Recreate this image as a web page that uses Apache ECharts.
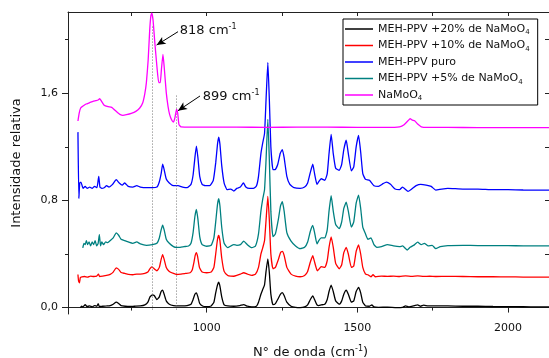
<!DOCTYPE html>
<html>
<head>
<meta charset="utf-8">
<script src="https://cdn.jsdelivr.net/npm/echarts@6/dist/echarts.min.js"></script>
<style>html,body{margin:0;padding:0;background:#fff}#c{width:549px;height:358px}</style>
</head>
<body>
<div id="c"></div>
<script>
const seriesNames = ['MEH-PPV +20% de NaMoO4','MEH-PPV +10% de NaMoO4','MEH-PPV puro','MEH-PPV +5% de NaMoO4','NaMoO4'];
const xTickLabels = [1000, 1500, 2000];
const xMinorTicks = [750, 1250, 1750];
const yTickLabels = [0, 0.8, 1.6];
const yMinorTicks = [0.4, 1.2, 2.0];
const markedBands = [818, 899];

const black20 = [[581,0.0],[585,0.01],[590,0.005],[597,0.022],[603,0.008],[612,0.012],[620,0.005],[628,0.015],[636,0.01],[640,0.03],[644,0.008],[655,0.01],[668,0.012],[680,0.015],[690,0.025],[700,0.04],[708,0.03],[716,0.015],[730,0.01],[745,0.008],[760,0.01],[780,0.012],[795,0.02],[805,0.04],[812,0.08],[820,0.095],[826,0.09],[835,0.06],[843,0.08],[849,0.12],[854,0.13],[859,0.1],[866,0.05],[876,0.025],[890,0.015],[905,0.012],[920,0.012],[935,0.015],[948,0.025],[955,0.06],[961,0.1],[966,0.11],[971,0.08],[977,0.03],[988,0.01],[1000,0.007],[1015,0.012],[1024,0.04],[1030,0.11],[1036,0.17],[1040,0.19],[1044,0.16],[1050,0.08],[1058,0.02],[1070,0.012],[1090,0.01],[1110,0.015],[1123,0.022],[1135,0.01],[1150,0.005],[1165,0.01],[1172,0.04],[1180,0.1],[1186,0.135],[1192,0.17],[1197,0.27],[1203,0.364],[1208,0.26],[1213,0.1],[1220,0.022],[1228,0.03],[1238,0.07],[1245,0.1],[1251,0.112],[1257,0.09],[1266,0.04],[1280,0.01],[1295,0.002],[1310,0.0],[1325,0.005],[1335,0.02],[1344,0.06],[1352,0.087],[1358,0.06],[1366,0.02],[1372,0.015],[1380,0.02],[1392,0.025],[1400,0.06],[1406,0.12],[1413,0.168],[1420,0.12],[1428,0.05],[1440,0.025],[1448,0.05],[1455,0.1],[1463,0.13],[1470,0.1],[1480,0.04],[1488,0.05],[1496,0.12],[1504,0.15],[1511,0.11],[1518,0.04],[1527,0.012],[1540,0.01],[1548,0.02],[1555,0.005],[1570,0.002],[1600,0.003],[1630,0.0],[1650,0.002],[1660,0.012],[1670,0.005],[1690,0.015],[1700,0.02],[1710,0.01],[1720,0.018],[1735,0.012],[1760,0.012],[1800,0.012],[1850,0.01],[1900,0.01],[1950,0.008],[2000,0.007],[2050,0.006],[2100,0.005],[2150,0.005]];

const red10 = [[573,0.247],[575,0.2],[578,0.185],[581,0.225],[586,0.23],[595,0.232],[605,0.228],[615,0.235],[625,0.232],[635,0.235],[641,0.25],[645,0.232],[655,0.235],[668,0.24],[680,0.248],[690,0.265],[700,0.297],[708,0.285],[716,0.262],[728,0.255],[740,0.248],[755,0.245],[768,0.25],[780,0.25],[795,0.255],[805,0.265],[812,0.29],[818,0.304],[826,0.29],[835,0.275],[843,0.3],[849,0.36],[854,0.396],[859,0.36],[866,0.3],[876,0.27],[890,0.255],[900,0.247],[915,0.25],[930,0.255],[945,0.26],[952,0.28],[958,0.34],[962,0.39],[966,0.41],[970,0.38],[976,0.3],[985,0.265],[1000,0.26],[1015,0.265],[1024,0.3],[1030,0.4],[1036,0.51],[1040,0.538],[1044,0.5],[1050,0.37],[1058,0.27],[1070,0.24],[1080,0.235],[1090,0.234],[1100,0.24],[1112,0.25],[1123,0.26],[1135,0.25],[1150,0.24],[1162,0.25],[1172,0.3],[1180,0.4],[1186,0.446],[1192,0.5],[1197,0.65],[1203,0.83],[1208,0.65],[1213,0.4],[1220,0.29],[1228,0.3],[1238,0.36],[1245,0.41],[1251,0.42],[1257,0.39],[1266,0.3],[1280,0.25],[1295,0.235],[1310,0.23],[1325,0.24],[1335,0.27],[1344,0.34],[1352,0.387],[1358,0.34],[1367,0.275],[1372,0.285],[1380,0.305],[1392,0.3],[1400,0.35],[1406,0.45],[1413,0.528],[1420,0.45],[1428,0.33],[1440,0.29],[1448,0.32],[1455,0.41],[1463,0.45],[1470,0.4],[1480,0.3],[1488,0.31],[1496,0.42],[1504,0.468],[1511,0.4],[1518,0.3],[1527,0.25],[1535,0.245],[1545,0.23],[1552,0.245],[1560,0.23],[1580,0.235],[1600,0.233],[1620,0.235],[1640,0.232],[1660,0.237],[1680,0.233],[1700,0.236],[1720,0.233],[1740,0.234],[1760,0.232],[1800,0.233],[1850,0.232],[1900,0.23],[1950,0.23],[2000,0.229],[2050,0.228],[2100,0.227],[2150,0.227]];

const bluePuro = [[573,1.31],[576,0.815],[579,0.93],[583,0.937],[590,0.89],[597,0.905],[604,0.89],[612,0.9],[620,0.89],[628,0.905],[636,0.895],[642,0.98],[646,0.9],[652,0.89],[660,0.895],[668,0.91],[676,0.9],[688,0.92],[700,0.955],[710,0.93],[720,0.915],[728,0.93],[740,0.905],[755,0.9],[768,0.91],[780,0.9],[800,0.895],[820,0.895],[835,0.9],[843,0.94],[849,1.0],[854,1.07],[859,1.03],[866,0.96],[876,0.93],[890,0.91],[905,0.91],[920,0.9],[935,0.895],[948,0.92],[955,0.99],[961,1.12],[966,1.206],[971,1.12],[977,0.98],[985,0.92],[995,0.91],[1010,0.91],[1022,0.95],[1030,1.08],[1036,1.22],[1040,1.273],[1044,1.22],[1050,1.06],[1058,0.93],[1068,0.88],[1080,0.885],[1090,0.87],[1100,0.89],[1112,0.9],[1122,0.93],[1130,0.9],[1142,0.89],[1155,0.89],[1165,0.907],[1172,0.98],[1180,1.15],[1186,1.23],[1192,1.3],[1197,1.55],[1203,1.83],[1208,1.55],[1213,1.2],[1220,1.03],[1227,1.03],[1236,1.07],[1244,1.15],[1251,1.18],[1257,1.12],[1266,0.98],[1276,0.92],[1290,0.895],[1310,0.89],[1325,0.9],[1335,0.93],[1344,1.01],[1352,1.07],[1358,1.0],[1366,0.92],[1372,0.94],[1380,0.962],[1392,0.95],[1400,1.0],[1406,1.15],[1413,1.293],[1420,1.15],[1428,1.04],[1440,1.025],[1448,1.07],[1455,1.18],[1463,1.25],[1470,1.15],[1480,1.02],[1488,1.05],[1496,1.2],[1504,1.286],[1511,1.16],[1518,1.0],[1527,0.957],[1540,0.95],[1555,0.91],[1570,0.905],[1585,0.925],[1596,0.937],[1610,0.92],[1625,0.885],[1640,0.88],[1650,0.9],[1658,0.885],[1668,0.867],[1680,0.885],[1695,0.91],[1710,0.92],[1728,0.915],[1745,0.905],[1760,0.877],[1780,0.885],[1800,0.89],[1850,0.885],[1900,0.885],[1950,0.88],[2000,0.88],[2050,0.878],[2100,0.877],[2150,0.877]];

const teal5 = [[589,0.446],[593,0.48],[597,0.47],[601,0.5],[605,0.47],[610,0.49],[615,0.46],[620,0.49],[625,0.47],[630,0.5],[635,0.46],[640,0.48],[644,0.545],[648,0.46],[652,0.49],[658,0.47],[665,0.49],[672,0.485],[680,0.5],[690,0.52],[700,0.558],[708,0.54],[716,0.51],[728,0.5],[740,0.49],[755,0.48],[768,0.49],[780,0.475],[800,0.465],[820,0.47],[835,0.48],[843,0.52],[849,0.58],[854,0.615],[859,0.58],[866,0.51],[876,0.48],[890,0.455],[900,0.449],[912,0.45],[925,0.455],[940,0.46],[948,0.48],[955,0.56],[961,0.68],[966,0.733],[971,0.66],[977,0.53],[985,0.47],[1000,0.458],[1015,0.465],[1024,0.52],[1030,0.64],[1036,0.77],[1040,0.813],[1044,0.76],[1050,0.6],[1058,0.48],[1070,0.447],[1080,0.46],[1090,0.47],[1100,0.465],[1112,0.47],[1123,0.496],[1135,0.47],[1150,0.447],[1162,0.46],[1172,0.55],[1180,0.72],[1186,0.81],[1192,0.88],[1197,1.1],[1203,1.405],[1208,1.1],[1213,0.72],[1220,0.53],[1228,0.55],[1238,0.66],[1245,0.76],[1251,0.79],[1257,0.72],[1266,0.56],[1280,0.496],[1295,0.46],[1310,0.44],[1325,0.45],[1335,0.49],[1344,0.57],[1352,0.613],[1358,0.56],[1366,0.475],[1372,0.5],[1380,0.52],[1392,0.52],[1400,0.58],[1406,0.72],[1413,0.835],[1420,0.72],[1428,0.62],[1440,0.59],[1448,0.64],[1455,0.74],[1463,0.787],[1470,0.72],[1480,0.6],[1488,0.64],[1496,0.78],[1504,0.84],[1511,0.74],[1518,0.6],[1527,0.55],[1535,0.51],[1545,0.52],[1555,0.47],[1565,0.45],[1580,0.455],[1600,0.47],[1620,0.46],[1640,0.455],[1650,0.46],[1665,0.43],[1675,0.45],[1690,0.47],[1700,0.488],[1712,0.47],[1722,0.48],[1735,0.46],[1748,0.465],[1760,0.44],[1775,0.455],[1800,0.463],[1850,0.465],[1900,0.463],[1950,0.462],[2000,0.462],[2050,0.461],[2100,0.46],[2150,0.46]];

const naMoO4 = [[573,1.393],[577,1.45],[582,1.49],[590,1.505],[600,1.52],[612,1.53],[623,1.54],[632,1.545],[640,1.55],[645,1.56],[650,1.545],[660,1.51],[673,1.5],[685,1.495],[695,1.475],[705,1.455],[712,1.443],[722,1.435],[734,1.44],[750,1.45],[765,1.465],[778,1.49],[788,1.53],[795,1.6],[800,1.68],[806,1.85],[811,2.07],[815,2.18],[818,2.198],[822,2.15],[828,1.98],[835,1.8],[841,1.68],[846,1.68],[850,1.78],[855,1.89],[859,1.8],[866,1.605],[872,1.5],[877,1.443],[884,1.4],[890,1.385],[895,1.42],[900,1.48],[904,1.45],[908,1.368],[915,1.35],[950,1.348],[1000,1.348],[1100,1.347],[1200,1.346],[1300,1.347],[1400,1.347],[1500,1.346],[1600,1.345],[1640,1.35],[1655,1.365],[1668,1.395],[1675,1.41],[1682,1.4],[1690,1.395],[1700,1.37],[1712,1.35],[1730,1.345],[1800,1.345],[1900,1.344],[2000,1.343],[2100,1.343],[2150,1.343]];

const seriesData = [black20, red10, bluePuro, teal5, naMoO4];
const seriesColors = ['#000000', '#ff0000', '#0000ff', '#008080', '#ff00ff'];

const FONT = 'DejaVu Sans';
const X_MIN = 540, X_MAX = 2149, Y_MIN = -0.048, Y_MAX = 2.207;
const axisCol = '#222';

const chart = echarts.init(document.getElementById('c'), null, {renderer: 'canvas'});

const series = seriesData.map((d, i) => ({
  name: seriesNames[i],
  type: 'line',
  data: d,
  symbol: 'none',
  smooth: 0.15,
  lineStyle: {color: seriesColors[i], width: 1.3},
  itemStyle: {color: seriesColors[i]},
  z: 2 + i,
  silent: true
}));

series[0].markLine = {
  silent: true,
  symbol: ['none', 'none'],
  label: {show: false},
  lineStyle: {color: '#777', type: [1, 2], width: 1},
  data: [
    [{coord: [markedBands[0], -0.015]}, {coord: [markedBands[0], 2.1]}],
    [{coord: [markedBands[1], -0.015]}, {coord: [markedBands[1], 1.59]}]
  ]
};
series[4].markLine = {
  silent: true,
  symbol: ['none', 'arrow'],
  symbolSize: [6, 9],
  label: {show: false},
  lineStyle: {color: '#000', type: 'solid', width: 1},
  data: [
    [{coord: [905, 2.06]}, {coord: [834, 1.96]}],
    [{coord: [978, 1.58]}, {coord: [905, 1.47]}]
  ]
};

const subFmt = n => n.replace('NaMoO4', 'NaMoO{s|4}');

const option = {
  animation: false,
  backgroundColor: '#fff',
  grid: {left: 68, right: -4, top: 12, bottom: 44, containLabel: false, outerBoundsMode: 'none'},
  legend: {
    orient: 'vertical',
    left: 343, top: 19,
    data: seriesNames,
    icon: 'rect',
    itemWidth: 28, itemHeight: 1.5, itemGap: 2.5,
    padding: [3, 8, 3, 2],
    borderColor: '#000', borderWidth: 1,
    formatter: subFmt,
    textStyle: {
      fontFamily: FONT, fontSize: 11, color: '#111', lineHeight: 14,
      rich: {s: {fontFamily: FONT, fontSize: 7, lineHeight: 14, verticalAlign: 'bottom', padding: [6, 0, 0, 0]}}
    }
  },
  xAxis: [
    {
      type: 'value', min: X_MIN, max: X_MAX, position: 'bottom',
      name: 'N° de onda (cm{sup|-1})',
      nameLocation: 'middle', nameGap: 31,
      nameTextStyle: {fontFamily: FONT, fontSize: 13, color: '#111',
        rich: {sup: {fontFamily: FONT, fontSize: 8, verticalAlign: 'top', padding: [0, 0, 7, 0]}}},
      splitLine: {show: false},
      axisLine: {show: true, lineStyle: {color: axisCol, width: 1}},
      axisTick: {show: true, inside: false, length: 5, customValues: xTickLabels, lineStyle: {color: axisCol}},
      axisLabel: {show: true, customValues: xTickLabels, margin: 9, fontFamily: FONT, fontSize: 11, color: '#111',
        formatter: v => String(v)}
    },
    {
      type: 'value', min: X_MIN, max: X_MAX, position: 'bottom',
      splitLine: {show: false},
      axisLine: {show: false},
      axisTick: {show: true, inside: false, length: 3, customValues: xMinorTicks, lineStyle: {color: axisCol}},
      axisLabel: {show: false}
    },
    {
      type: 'value', min: X_MIN, max: X_MAX, position: 'top',
      splitLine: {show: false},
      axisLine: {show: true, onZero: false, lineStyle: {color: axisCol, width: 1}},
      axisTick: {show: true, inside: true, length: 4, customValues: xMinorTicks.concat(xTickLabels), lineStyle: {color: axisCol}},
      axisLabel: {show: false}
    }
  ],
  yAxis: [
    {
      type: 'value', min: Y_MIN, max: Y_MAX, position: 'left',
      name: 'Intensidade relativa',
      nameLocation: 'middle', nameGap: 45,
      nameTextStyle: {fontFamily: FONT, fontSize: 13, color: '#111'},
      splitLine: {show: false},
      axisLine: {show: true, onZero: false, lineStyle: {color: axisCol, width: 1}},
      axisTick: {show: true, inside: false, length: 6, customValues: yTickLabels, lineStyle: {color: axisCol}},
      axisLabel: {show: true, customValues: yTickLabels, margin: 10, fontFamily: FONT, fontSize: 11, color: '#111',
        formatter: v => v.toFixed(1).replace('.', ',')}
    },
    {
      type: 'value', min: Y_MIN, max: Y_MAX, position: 'left',
      splitLine: {show: false},
      axisLine: {show: false},
      axisTick: {show: true, inside: false, length: 3, customValues: yMinorTicks, lineStyle: {color: axisCol}},
      axisLabel: {show: false}
    },
    {
      type: 'value', min: Y_MIN, max: Y_MAX, position: 'right',
      splitLine: {show: false},
      axisLine: {show: true, onZero: false, lineStyle: {color: axisCol, width: 1}},
      axisTick: {show: true, inside: true, length: 8, customValues: yMinorTicks.concat(yTickLabels.slice(1)), lineStyle: {color: axisCol}},
      axisLabel: {show: false}
    }
  ],
  series: series
};
chart.setOption(option);

const annots = [
  {text: markedBands[0] + ' cm{sup|-1}', at: [911, 2.066]},
  {text: markedBands[1] + ' cm{sup|-1}', at: [987, 1.575]}
];
chart.setOption({
  graphic: annots.map(a => {
    const p = chart.convertToPixel({xAxisIndex: 0, yAxisIndex: 0}, a.at);
    return {
      type: 'text', x: p[0], y: p[1], z: 50,
      style: {
        text: a.text, fill: '#111', font: '13px "DejaVu Sans"',
        verticalAlign: 'middle', align: 'left',
        rich: {sup: {fontFamily: FONT, fontSize: 8, verticalAlign: 'top', padding: [0, 0, 7, 0]}}
      }
    };
  })
});
</script>
</body>
</html>
